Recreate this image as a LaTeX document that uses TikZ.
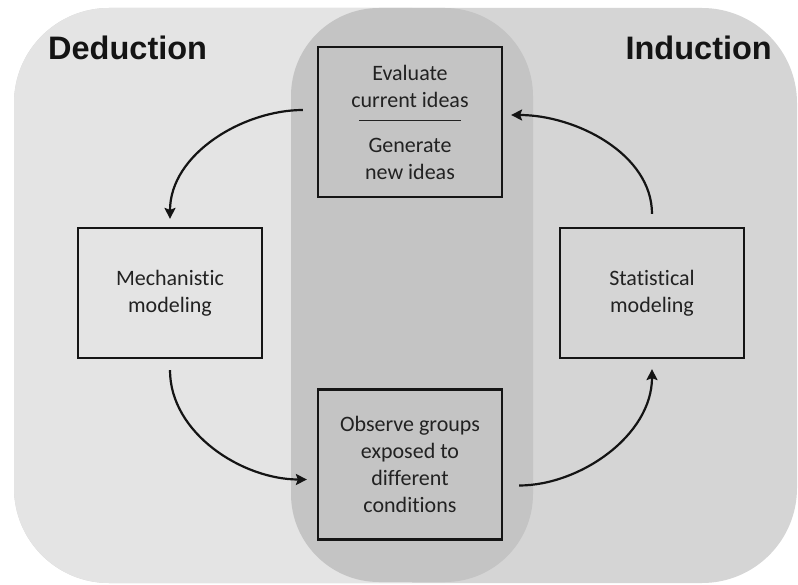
\documentclass[tikz,border=0pt]{standalone}
\usepackage{fontspec}
\setmainfont{Carlito}[Ligatures=NoCommon]
\newfontfamily\headfont{Liberation Sans}
\usetikzlibrary{arrows.meta}

\definecolor{leftgray}{HTML}{E4E4E4}
\definecolor{rightgray}{HTML}{D5D5D5}
\definecolor{midgray}{HTML}{C4C4C4}
\definecolor{boxline}{HTML}{151515}
\definecolor{textgray}{HTML}{222222}

\begin{document}
\begin{tikzpicture}[x=1pt,y=-1pt,
  box/.style={draw=boxline, line width=2.2pt, minimum width=184pt,
    align=center, inner sep=0pt, text=textgray,
    font=\fontsize{22}{27}\selectfont},
  tallbox/.style={box, minimum height=150pt},
  widebox/.style={box, minimum height=130pt},
  title/.style={font=\headfont\bfseries\fontsize{32.5}{38}\selectfont, text=black!92, inner sep=0pt},
  flow/.style={draw=black!92, line width=2.2pt,
    -{Stealth[length=11pt,width=11pt,inset=2pt]}}]

% page and the three shaded regions
\useasboundingbox (0,0) rectangle (798,585);
\fill[white] (0,0) rectangle (798,585);
\fill[rightgray, rounded corners=95pt] (14,8) rectangle (797,583);
\begin{scope}
  \clip (0,0) rectangle (412,585);
  \fill[leftgray, rounded corners=95pt] (14,8) rectangle (797,583);
\end{scope}
\fill[midgray, rounded corners=88pt] (291,8) rectangle (533,582);

% headings
\node[title, anchor=base west] (ded) at (48,60) {Deduction};
\node[title, anchor=base east] (ind) at (772,60) {Induction};

% boxes
\node[tallbox, fill=midgray] (ideas) at (410,122)
  {Evaluate\\current ideas\\[-13pt]\rule{102pt}{1.2pt}\\[4pt]Generate\\new ideas};
\node[widebox, fill=leftgray] (mech) at (170,293) {Mechanistic\\modeling};
\node[widebox, fill=rightgray] (stat) at (652,293) {Statistical\\modeling};
\node[tallbox, fill=midgray] (obs) at (410,464.5)
  {Observe groups\\exposed to\\different\\conditions};

% cycle of arrows
\draw[flow, shorten <=14pt, shorten >=8pt]
  ([yshift=12pt]ideas.west) to[out=180,in=90] (mech.north);
\draw[flow, shorten <=11pt, shorten >=10pt]
  (mech.south) to[out=-90,in=180] ([yshift=-15pt]obs.west);
\draw[flow, shorten <=16pt, shorten >=10pt]
  ([yshift=-21pt]obs.east) to[out=0,in=-90] (stat.south);
\draw[flow, shorten <=13pt, shorten >=8pt]
  (stat.north) to[out=90,in=0] ([yshift=7pt]ideas.east);
\end{tikzpicture}
\end{document}
